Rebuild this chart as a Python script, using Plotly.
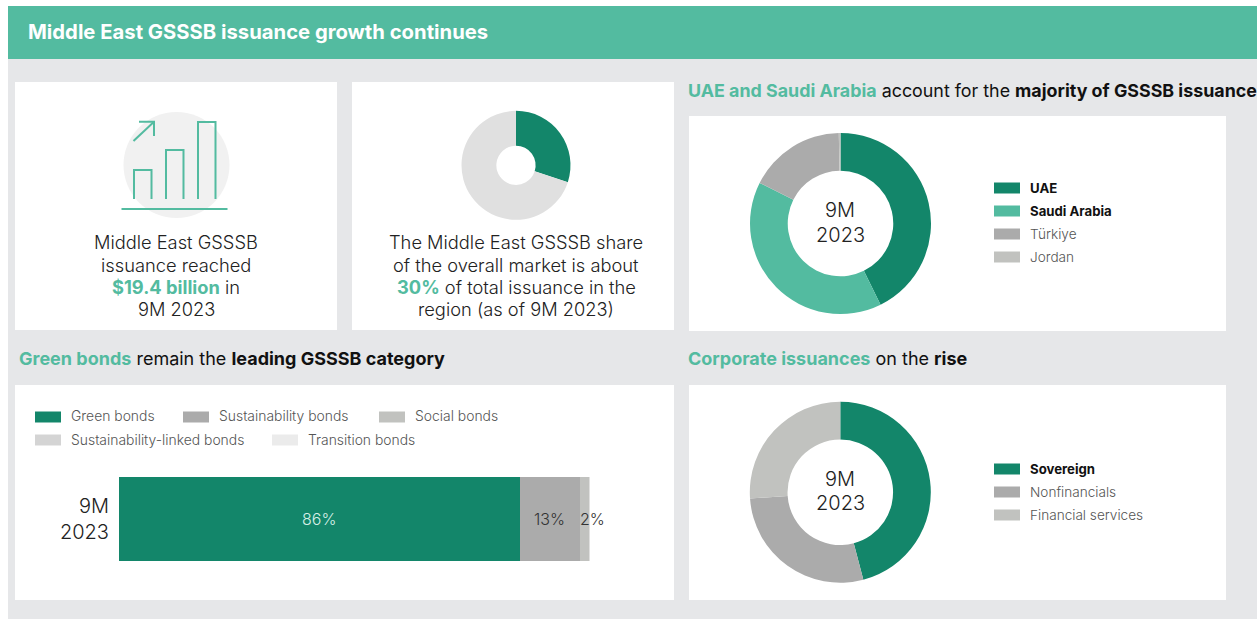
import plotly.graph_objects as go

W, H = 1257, 619
FONT = "Inter"
DARK = "#13866A"
TEAL = "#53BBA0"
INK = "#222222"
SOFT = "#555555"

# Issuance by country, share of total
country_labels = ["UAE", "Saudi Arabia", "Türkiye", "Jordan"]
country_values = [42.7, 39.7, 17.3, 0.3]
country_colors = [DARK, TEAL, "#ABABAB", "#C1C2BF"]

# Issuer mix, share of total
issuer_labels = ["Sovereign", "Nonfinancials", "Financial services"]
issuer_values = [45.9, 28.0, 26.1]
issuer_colors = [DARK, "#ABABAB", "#C1C2BF"]

# Regional share of the overall market
market_labels = ["Middle East GSSSB", "Rest of market"]
market_values = [30, 70]
market_colors = [DARK, "#E0E0E0"]

# Issuance by bond category
period = "9M<br>2023"
bond_labels = ["Green bonds", "Sustainability bonds", "Social bonds"]
bond_values = [86, 13, 2]
bond_colors = [DARK, "#ABABAB", "#C1C2BF"]

panels = [(15, 82, 337, 330), (352, 82, 674, 330), (689, 116, 1226, 331),
          (15, 385, 674, 600), (689, 385, 1226, 600)]


def px(x):
    return x / W


def py(y):
    return 1 - y / H


def rect(x0, y0, x1, y1, color):
    return dict(type="rect", xref="paper", yref="paper", x0=px(x0), x1=px(x1),
                y0=py(y0), y1=py(y1), fillcolor=color, line_width=0, layer="below")


def polyline(points):
    path = "M " + " L ".join(f"{px(x):.5f} {py(y):.5f}" for x, y in points)
    return dict(type="path", xref="paper", yref="paper", path=path,
                line=dict(color=TEAL, width=2), layer="below")


def text(x, y, s, size=16, color=INK, anchor="center", weight=300):
    # Left-aligned labels carry the annotation's own padding, so pull them back by it
    offset = -2 if anchor == "left" else 0
    return dict(xref="paper", yref="paper", x=px(x + offset), y=py(y), text=s, showarrow=False,
                xanchor=anchor, yanchor="middle", align=anchor,
                font=dict(family=FONT, size=size, color=color, weight=weight))


def domain(cx, cy, r):
    return dict(x=[px(cx - r), px(cx + r)], y=[py(cy + r), py(cy - r)])


def donut(labels, values, colors, cx, cy, r, hole):
    return go.Pie(labels=labels, values=values, hole=hole, sort=False, direction="clockwise",
                  rotation=0, textinfo="none", hoverinfo="label+percent", showlegend=False,
                  marker=dict(colors=colors, line=dict(width=0)), domain=domain(cx, cy, r))


def teal(s):
    return f'<span style="color:{TEAL}"><b>{s}</b></span>'


fig = go.Figure()
fig.add_trace(donut(market_labels, market_values, market_colors, 516, 165.3, 54.5, 0.36))
fig.add_trace(donut(country_labels, country_values, country_colors, 840.5, 223.5, 90.5, 0.583))
fig.add_trace(donut(issuer_labels, issuer_values, issuer_colors, 840.3, 492.3, 90.5, 0.583))

for label, value, color in zip(bond_labels, bond_values, bond_colors):
    fig.add_trace(go.Bar(x=[value], y=[period], name=label, orientation="h", marker_color=color,
                         marker_line_width=0, showlegend=False, hoverinfo="name+x"))

shapes = [rect(8, 6, W, 59, TEAL), rect(8, 59, W, H, "#E6E7E9")]
shapes += [rect(*p, "white") for p in panels]

# Rising-bars pictogram
shapes.append(dict(type="circle", xref="paper", yref="paper", x0=px(123.5), x1=px(229.5),
                   y0=py(218), y1=py(112), fillcolor="#F1F1F1", line_width=0, layer="below"))
for x0, top in [(134, 170), (166, 150), (198, 122)]:
    shapes.append(polyline([(x0, 199), (x0, top), (x0 + 17.5, top), (x0 + 17.5, 199)]))
shapes.append(polyline([(121.5, 209), (227.5, 209)]))
shapes.append(polyline([(133.5, 141), (154, 121.7)]))
shapes.append(polyline([(139, 121.7), (154, 121.7), (154, 136)]))

notes = [text(28, 31.5, "<b>Middle East GSSSB issuance growth continues</b>", 20.25, "white", "left", 400)]

# Headings
notes.append(text(688, 90.5, teal("UAE and Saudi Arabia") + " account for the <b>majority of GSSSB issuance</b>",
                  17.85, "#111111", "left", 400))
notes.append(text(19, 358.5, teal("Green bonds") + " remain the <b>leading GSSSB category</b>", 18, "#111111", "left", 400))
notes.append(text(688, 358.5, teal("Corporate issuances") + " on the <b>rise</b>", 18, "#111111", "left", 400))

# Panel captions
for y, s in zip([242.5, 264.5, 287, 309],
                ["Middle East GSSSB", "issuance reached", teal("$19.4 billion") + " in", "9M 2023"]):
    notes.append(text(176, y, s, 18.3))
for y, s in zip([242.5, 264.5, 287, 309],
                ["The Middle East GSSSB share", "of the overall market is about",
                 teal("30%") + " of total issuance in the", "region (as of 9M 2023)"]):
    notes.append(text(516, y, s, 18.3))

# Donut centres
for cx, y1, y2 in [(840.5, 209.5, 234.5), (840.3, 478.5, 503.5)]:
    notes.append(text(cx, y1, "9M", 20))
    notes.append(text(cx, y2, "2023", 20))

# Donut legends
for labels, colors, first, bold in [(country_labels, country_colors, 188, 2),
                                    (issuer_labels, issuer_colors, 469, 1)]:
    for i, (label, color) in enumerate(zip(labels, colors)):
        y = first + 23 * i
        shapes.append(rect(994, y - 5.5, 1020, y + 5.5, color))
        if i < bold:
            notes.append(text(1030, y, f"<b>{label}</b>", 13.2, "#111111", "left", 400))
        else:
            notes.append(text(1030, y, label, 13.6, SOFT, "left"))

# Bond category legend
bond_legend = [("Green bonds", DARK, 35, 417), ("Sustainability bonds", "#ABABAB", 183, 417),
               ("Social bonds", "#C1C2BF", 379, 417), ("Sustainability-linked bonds", "#D4D4D4", 35, 440),
               ("Transition bonds", "#EBEBEB", 272, 440)]
for label, color, x, y in bond_legend:
    shapes.append(rect(x, y - 5.5, x + 26, y + 5.5, color))
    notes.append(text(x + 36, y - 0.5, label, 13.9, SOFT, "left"))

# Bar value labels sit on the data axis
bar_note = dict(xref="x", yref="y", y=period, showarrow=False, yanchor="middle")
start = 0
for i, (value, color) in enumerate(zip(bond_values, ["#D6EFE7", "#333333", "#333333"])):
    label = dict(bar_note, text=f"{value}%", font=dict(family=FONT, size=16, color=color, weight=300))
    if i == 2:
        label.update(x=start, xanchor="left", xshift=-2)
    else:
        label.update(x=start + value / 2, xanchor="center")
    notes.append(label)
    start += value

fig.update_layout(
    width=W, height=H, margin=dict(l=0, r=0, t=0, b=0), autosize=False,
    paper_bgcolor="white", plot_bgcolor="rgba(0,0,0,0)",
    barmode="stack", bargap=0, showlegend=False, shapes=shapes, annotations=notes,
    xaxis=dict(domain=[px(119), px(589.5)], range=[0, sum(bond_values)], visible=False, fixedrange=True),
    yaxis=dict(domain=[py(561), py(477)], type="category", showline=False, showgrid=False, ticks="",
               tickfont=dict(family=FONT, size=20, color=INK, weight=300), ticklabelstandoff=9,
               zeroline=False, fixedrange=True),
)

fig.write_html("out.html", config=dict(displayModeBar=False))
